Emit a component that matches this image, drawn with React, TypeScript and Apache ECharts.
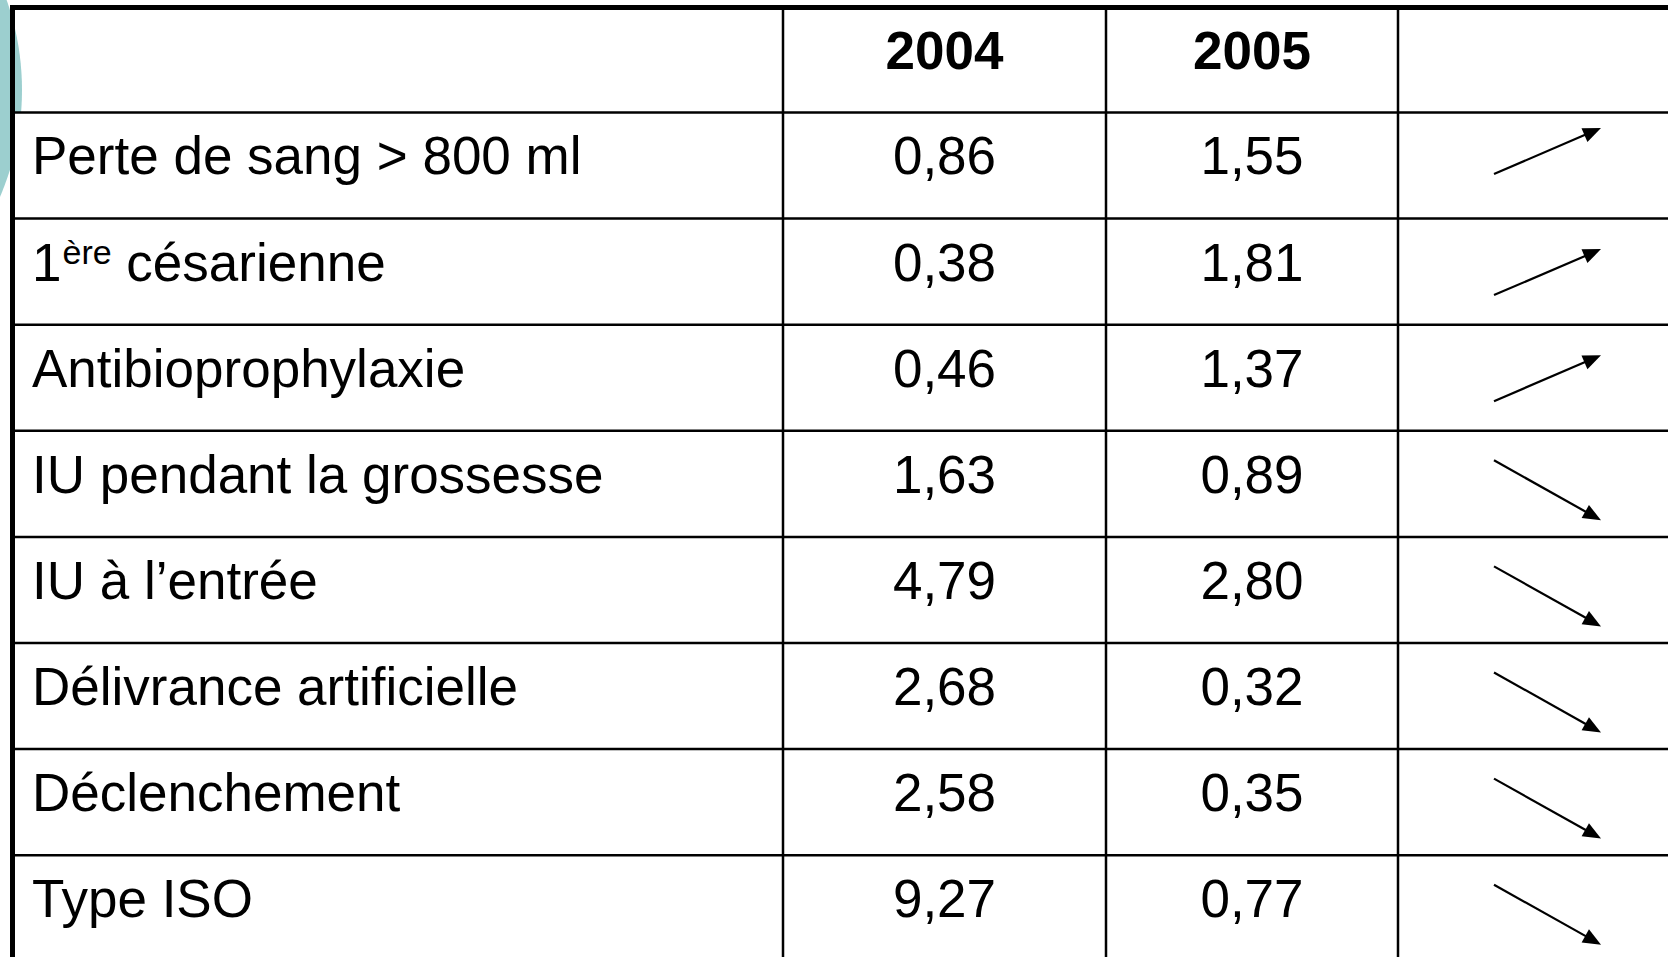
import React, { useEffect, useRef } from "react";
import * as echarts from "echarts";

const headers: string[] = ["", "2004", "2005", ""];
const labels: string[] = [
  "Perte de sang > 800 ml",
  "1ère césarienne",
  "Antibioprophylaxie",
  "IU pendant la grossesse",
  "IU à l’entrée",
  "Délivrance artificielle",
  "Déclenchement",
  "Type ISO",
];
const values2004: number[] = [0.86, 0.38, 0.46, 1.63, 4.79, 2.68, 2.58, 9.27];
const values2005: number[] = [1.55, 1.81, 1.37, 0.89, 2.8, 0.32, 0.35, 0.77];

const W = 1668;
const H = 957;
const LEFT = 12.5;
const TOP = 7.5;
const HEADER_H = 105;
const ROW_H = 106.1;
const COLS = [783, 1106, 1398];
const FONT = '"Liberation Sans", Arial, sans-serif';
const FS = 53;
const SUP_FS = 34;
const BASE_OFF = 62;

const fmt = (v: number) => v.toFixed(2).replace(".", ",");

function measure(text: string, size: number, weight = "normal"): number {
  const c = document.createElement("canvas").getContext("2d");
  if (!c) return text.length * size * 0.5;
  c.font = `${weight} ${size}px "Liberation Sans", Arial, sans-serif`;
  return c.measureText(text).width;
}

function midY(baseline: number, size: number) {
  return baseline - 0.35 * size;
}

function arrow(x1: number, y1: number, x2: number, y2: number): any[] {
  const dx = x2 - x1;
  const dy = y2 - y1;
  const len = Math.sqrt(dx * dx + dy * dy);
  const ux = dx / len;
  const uy = dy / len;
  const hl = 18;
  const hw = 7.5;
  const bx = x2 - ux * hl;
  const by = y2 - uy * hl;
  const nx = -uy;
  const ny = ux;
  return [
    {
      type: "line",
      shape: { x1, y1, x2: bx + ux * 2, y2: by + uy * 2 },
      style: { stroke: "#000", lineWidth: 2.2 },
      z: 5,
    },
    {
      type: "polygon",
      shape: {
        points: [
          [x2, y2],
          [bx + nx * hw, by + ny * hw],
          [bx - nx * hw, by - ny * hw],
        ],
      },
      style: { fill: "#000" },
      z: 5,
    },
  ];
}

function buildGraphics(): any[] {
  const els: any[] = [];
  // decorative teal circle at the left edge
  els.push({
    type: "circle",
    shape: { cx: -249, cy: 90, r: 271 },
    style: { fill: "#9ccfcf" },
    z: 0,
  });
  const bodyTop = TOP + HEADER_H;
  els.push({
    type: "rect",
    shape: { x: LEFT, y: bodyTop, width: W - LEFT, height: H - bodyTop },
    style: { fill: "#fff" },
    z: 1,
  });
  for (let i = 0; i < labels.length; i++) {
    const y = bodyTop + i * ROW_H;
    els.push({
      type: "line",
      shape: { x1: LEFT, y1: y, x2: W, y2: y },
      style: { stroke: "#000", lineWidth: 2.5 },
      z: 3,
    });
  }
  COLS.forEach((x) => {
    els.push({
      type: "line",
      shape: { x1: x, y1: TOP, x2: x, y2: H },
      style: { stroke: "#000", lineWidth: 2.5 },
      z: 3,
    });
  });
  els.push({
    type: "line",
    shape: { x1: LEFT - 2.5, y1: TOP, x2: W, y2: TOP },
    style: { stroke: "#000", lineWidth: 5 },
    z: 4,
  });
  els.push({
    type: "line",
    shape: { x1: LEFT, y1: TOP - 2.5, x2: LEFT, y2: H },
    style: { stroke: "#000", lineWidth: 5 },
    z: 4,
  });

  const colCenters = [
    (LEFT + COLS[0]) / 2,
    (COLS[0] + COLS[1]) / 2,
    (COLS[1] + COLS[2]) / 2,
    (COLS[2] + W) / 2,
  ];
  headers.forEach((h, i) => {
    if (!h) return;
    els.push({
      type: "text",
      x: colCenters[i],
      y: midY(TOP + BASE_OFF, FS),
      style: {
        text: h,
        font: `bold ${FS}px ${FONT}`,
        fill: "#000",
        align: "center",
        verticalAlign: "middle",
      },
      z: 5,
    });
  });

  const labelX = 32;
  labels.forEach((lab, i) => {
    const top = bodyTop + i * ROW_H;
    const base = top + BASE_OFF;
    const m = lab.match(/^(\d)(ère)\s(.*)$/);
    if (m) {
      const w1 = measure(m[1], FS);
      const w2 = measure(m[2], SUP_FS);
      const ws = measure(" ", FS);
      els.push({
        type: "text",
        x: labelX,
        y: midY(base, FS),
        style: { text: m[1], font: `${FS}px ${FONT}`, fill: "#000", align: "left", verticalAlign: "middle" },
        z: 5,
      });
      els.push({
        type: "text",
        x: labelX + w1 + 1,
        y: midY(base - 17, SUP_FS),
        style: { text: m[2], font: `${SUP_FS}px ${FONT}`, fill: "#000", align: "left", verticalAlign: "middle" },
        z: 5,
      });
      els.push({
        type: "text",
        x: labelX + w1 + 1 + w2 + ws,
        y: midY(base, FS),
        style: { text: m[3], font: `${FS}px ${FONT}`, fill: "#000", align: "left", verticalAlign: "middle" },
        z: 5,
      });
    } else {
      els.push({
        type: "text",
        x: labelX,
        y: midY(base, FS),
        style: { text: lab, font: `${FS}px ${FONT}`, fill: "#000", align: "left", verticalAlign: "middle" },
        z: 5,
      });
    }
    [values2004[i], values2005[i]].forEach((v, j) => {
      els.push({
        type: "text",
        x: colCenters[j + 1],
        y: midY(base, FS),
        style: { text: fmt(v), font: `${FS}px ${FONT}`, fill: "#000", align: "center", verticalAlign: "middle" },
        z: 5,
      });
    });
    const up = values2005[i] > values2004[i];
    if (up) {
      // the first up-arrow sits a little higher in its cell than the others
      const shift = i === 0 ? 0 : 15;
      els.push(...arrow(1494, top + 61.5 + shift, 1601, top + 15.5 + shift));
    } else {
      els.push(...arrow(1494, top + 29.5, 1601, top + 89.5));
    }
  });
  return els;
}

export default function App() {
  const ref = useRef<HTMLDivElement>(null);
  useEffect(() => {
    if (!ref.current) return;
    const chart = echarts.init(ref.current, undefined, { renderer: "svg" });
    chart.setOption({
      animation: false,
      backgroundColor: "#ffffff",
      graphic: { elements: buildGraphics() },
    });
    return () => chart.dispose();
  }, []);
  return (
    <div
      ref={ref}
      style={{ position: "absolute", left: 0, top: 0, width: W, height: H, background: "#fff" }}
    />
  );
}
